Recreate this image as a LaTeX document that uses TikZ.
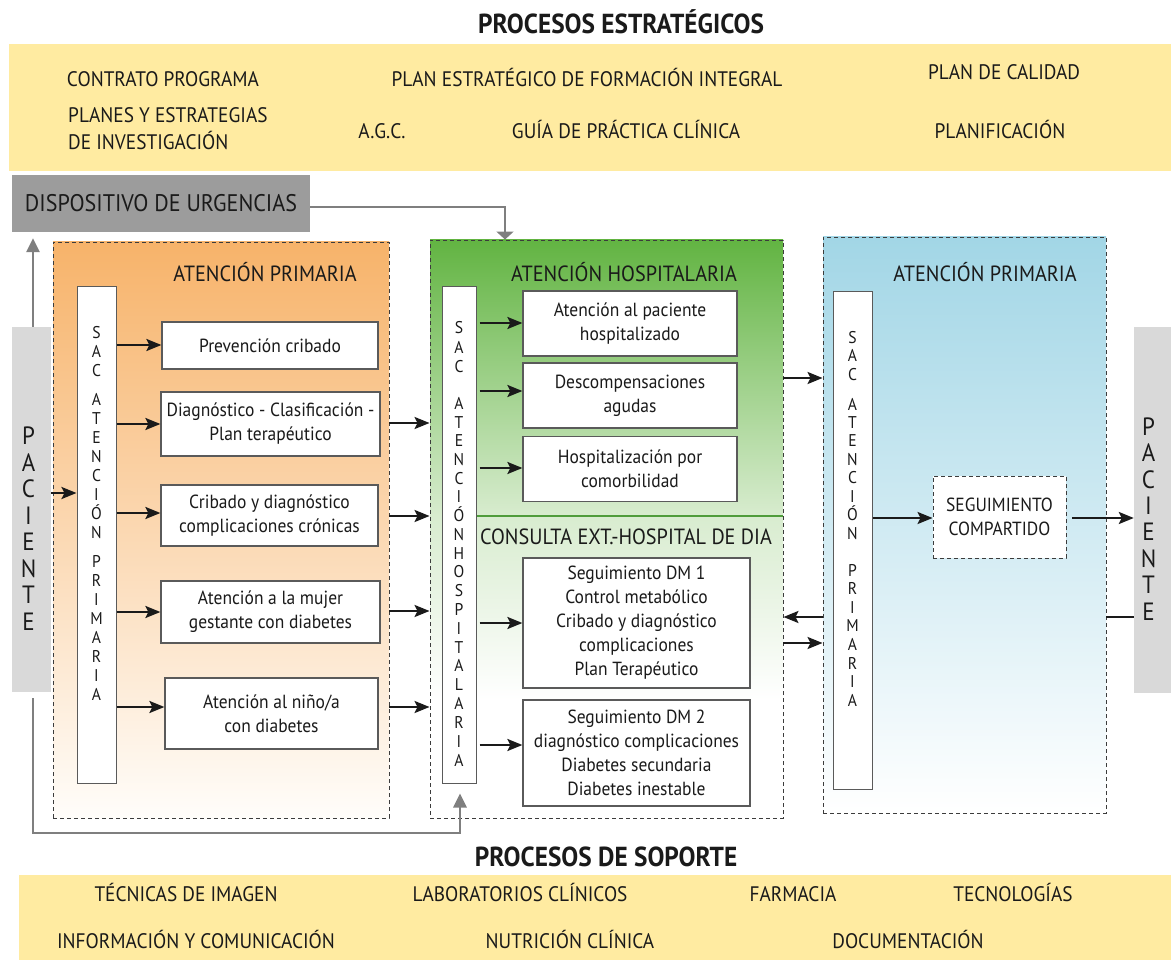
\documentclass[tikz,border=0pt]{standalone}
\usepackage{fontspec}
\setmainfont{PT Sans}[FakeStretch=0.92]
\usetikzlibrary{arrows.meta}
\definecolor{band}{HTML}{FFEBA1}
\definecolor{dispgray}{HTML}{9C9C9C}
\definecolor{pacgray}{HTML}{D9D9D9}
\definecolor{orangetop}{HTML}{F7B36A}
\definecolor{orangebot}{HTML}{FFFDFA}
\definecolor{greentop}{HTML}{62B442}
\definecolor{greenmid}{HTML}{D8ECCF}
\definecolor{greenline}{HTML}{4F9C3B}
\definecolor{bluetop}{HTML}{A2D6E6}
\definecolor{ink}{HTML}{1A1A1A}
\definecolor{conn}{HTML}{7F7F7F}
\definecolor{frame}{HTML}{3C3C3C}
\definecolor{boxline}{HTML}{5A5A5A}
\begin{document}
\begin{tikzpicture}[x=1pt,y=-1pt,
  every node/.style={text=ink},
  bigtitle/.style={font=\fontsize{27.5}{30}\selectfont\bfseries, inner sep=0pt},
  bandtxt/.style={font=\fontsize{21}{27}\selectfont, inner sep=0pt},
  bandline/.style={bandtxt, anchor=base},
  cont/.style={draw=frame, line width=0.9pt, dash pattern=on 4pt off 3pt, inner sep=0pt},
  conttitle/.style={font=\fontsize{22}{26}\selectfont, inner sep=0pt},
  bar/.style={draw=boxline, fill=white, line width=1pt, inner sep=0pt},
  procbox/.style={draw=boxline, fill=white, line width=1.2pt, inner sep=0pt, align=center, font=\fontsize{19}{24}\selectfont},
  vl/.style={font=\fontsize{17}{17}\selectfont, anchor=base, inner sep=0pt},
  pl/.style={font=\fontsize{25}{25}\selectfont, anchor=base, inner sep=0pt},
  arr/.style={draw=ink, line width=2.5pt, -{Stealth[length=15pt,width=12pt,inset=3pt]}},
  garr/.style={draw=conn, line width=2.8pt, -{Triangle[length=14pt,width=13pt]}},
  gdown/.style={draw=conn, line width=2.8pt, -{Triangle[length=8pt,width=17pt]}},
]
\useasboundingbox (0,0) rectangle (1171,960);

% ---------- strategic processes ----------
\node[bigtitle] (tStrat) at (621,22) {PROCESOS ESTRATÉGICOS};
\fill[band] (9,44) rectangle (1171,171);
\node[bandline] (s1) at (163,86.5) {CONTRATO PROGRAMA};
\node[bandline] (s2) at (587,86.5) {PLAN ESTRATÉGICO DE FORMACIÓN INTEGRAL};
\node[bandline] (s3) at (1004,79.5) {PLAN DE CALIDAD};
\node[bandtxt, anchor=west, align=left] (s4) at (68,128.5) {PLANES Y ESTRATEGIAS\\DE INVESTIGACIÓN};
\node[bandline] (s5) at (382,138.5) {A.G.C.};
\node[bandline] (s6) at (626,138.5) {GUÍA DE PRÁCTICA CLÍNICA};
\node[bandline] (s7) at (1000,138.5) {PLANIFICACIÓN};

% ---------- support processes ----------
\node[bigtitle] (tSop) at (606,857) {PROCESOS DE SOPORTE};
\fill[band] (19,875) rectangle (1171,960);
\node[bandline] (p1) at (186,901.5) {TÉCNICAS DE IMAGEN};
\node[bandline] (p2) at (520,901.5) {LABORATORIOS CLÍNICOS};
\node[bandline] (p3) at (793,901.5) {FARMACIA};
\node[bandline] (p4) at (1013,901.5) {TECNOLOGÍAS};
\node[bandline] (p5) at (196,948.5) {INFORMACIÓN Y COMUNICACIÓN};
\node[bandline] (p6) at (570,948.5) {NUTRICIÓN CLÍNICA};
\node[bandline] (p7) at (908,948.5) {DOCUMENTACIÓN};

% ---------- urgencias ----------
\node[fill=dispgray, minimum width=298pt, minimum height=57pt, inner sep=0pt,
      font=\fontsize{24}{28}\selectfont] (disp) at (161,203.5) {DISPOSITIVO DE URGENCIAS};

% ---------- containers ----------
\node[cont, top color=orangetop, bottom color=orangebot, minimum width=336pt, minimum height=576pt] (orange) at (221,530) {};
\shade[top color=greentop, bottom color=greenmid] (430,240) rectangle (783,516);
\shade[top color=greenmid, bottom color=white] (430,516) rectangle (783,700);
\node[cont, minimum width=353pt, minimum height=578pt] (green) at (606.5,529) {};
\node[cont, top color=bluetop, bottom color=white, minimum width=283pt, minimum height=576pt] (blue) at (964.5,525) {};

\node[conttitle] (tOr) at (265,272) {ATENCIÓN PRIMARIA};
\node[conttitle] (tGr) at (624,272) {ATENCIÓN HOSPITALARIA};
\node[conttitle] (tCe) at (626,537) {CONSULTA EXT.-HOSPITAL DE DIA};
\node[conttitle] (tBl) at (985,272) {ATENCIÓN PRIMARIA};

% ---------- patient boxes ----------
\node[fill=pacgray, minimum width=39pt, minimum height=365pt, inner sep=0pt] (pacL) at (31.5,509.5) {};
\node[fill=pacgray, minimum width=37pt, minimum height=366pt, inner sep=0pt] (pacR) at (1152.5,510) {};
\foreach \yy/\ll [count=\i] in {436/P,462.5/A,489/C,515.5/I,542/E,568.5/N,595/T,621.5/E}
  \node[pl] (pacL-\i) at (28.5,\yy+8.5) {\ll};
\foreach \yy/\ll [count=\i] in {426.5/P,453/A,479.5/C,506/I,532/E,558.5/N,585/T,611.5/E}
  \node[pl] (pacR-\i) at (1148.5,\yy+8.5) {\ll};

% ---------- SAC bars ----------
\node[bar, minimum width=39pt, minimum height=496pt] (sacL) at (96.5,535) {};
\node[bar, minimum width=34pt, minimum height=496pt] (sacH) at (459,535) {};
\node[bar, minimum width=39pt, minimum height=497pt] (sacR) at (852.5,540.5) {};
\foreach \yy/\ll [count=\i] in {332/S,351/A,370/C,399/A,418/T,437/E,456/N,475/C,494/I,513/Ó,532/N,561/P,580/R,599/I,618/M,637/A,656/R,675/I,694/A}
  \node[vl] (sacL-\i) at (96.5,\yy+6) {\ll};
\foreach \yy/\ll [count=\i] in {328/S,347/A,366/C,403/A,422/T,440/E,459/N,478/C,496/I,515/Ó,534/N,553/H,571/O,590/S,609/P,628/I,647/T,665/A,684/L,703/A,722/R,741/I,760/A}
  \node[vl] (sacH-\i) at (459,\yy+6) {\ll};
\foreach \yy/\ll [count=\i] in {337/S,356/A,374/C,404/A,422/T,440/E,459/N,477/C,496/I,514/Ó,533/N,570/P,588/R,607/I,625/M,644/A,663/R,681/I,700/A}
  \node[vl] (sacR-\i) at (852.5,\yy+6) {\ll};

% ---------- primary care boxes ----------
\node[procbox, minimum width=216pt, minimum height=47pt] (b1) at (270,345.5) {Prevención cribado};
\node[procbox, minimum width=219pt, minimum height=64pt] (b2) at (270.5,424) {Diagnóstico - Clasificación -\\Plan terapéutico};
\node[procbox, minimum width=217pt, minimum height=61pt] (b3) at (269.5,515.5) {Cribado y diagnóstico\\complicaciones crónicas};
\node[procbox, minimum width=219pt, minimum height=62pt] (b4) at (270.5,612) {Atención a la mujer\\gestante con diabetes};
\node[procbox, minimum width=213pt, minimum height=71pt] (b5) at (271.5,713.5) {Atención al niño/a\\con diabetes};

% ---------- hospital boxes ----------
\node[procbox, minimum width=214pt, minimum height=65pt] (g1) at (630,323.5) {Atención al paciente\\hospitalizado};
\node[procbox, minimum width=214pt, minimum height=65pt] (g2) at (630,395.5) {Descompensaciones\\agudas};
\node[procbox, minimum width=214pt, minimum height=65pt] (g3) at (630,469) {Hospitalización por\\comorbilidad};
\node[procbox, minimum width=227pt, minimum height=130pt] (g4) at (636.5,623) {Seguimiento DM 1\\Control metabólico\\Cribado y diagnóstico\\complicaciones\\Plan Terapéutico};
\node[procbox, minimum width=227pt, minimum height=106pt] (g5) at (636.5,753) {Seguimiento DM 2\\diagnóstico complicaciones\\Diabetes secundaria\\Diabetes inestable};

\draw[greenline, line width=2pt] (sacH.east |- 0,516) -- (green.east |- 0,516);

% ---------- shared follow-up ----------
\node[procbox, dash pattern=on 4pt off 3pt, draw=frame, line width=0.9pt, minimum width=133pt, minimum height=82pt] (seg) at (999.5,517) {SEGUIMIENTO\\COMPARTIDO};

% ---------- black arrows ----------
\draw[arr] (pacL.east |- 0,493) -- (sacL.west |- 0,493);
\foreach \b/\yy in {b1/345, b2/424, b3/513, b4/612, b5/707}
  \draw[arr] (sacL.east |- 0,\yy) -- (\b.west |- 0,\yy);
\foreach \yy in {423, 516, 611, 707}
  \draw[arr] (orange.east |- 0,\yy) -- (green.west |- 0,\yy);
\foreach \b/\yy in {g1/323, g2/391, g3/468, g4/623, g5/745}
  \draw[arr, shorten <=3pt] (sacH.east |- 0,\yy) -- (\b.west |- 0,\yy);
\draw[arr] (green.east |- 0,378) -- (blue.west |- 0,378);
\draw[arr] (blue.west |- 0,617) -- (green.east |- 0,617);
\draw[arr] (green.east |- 0,643) -- (blue.west |- 0,643);
\draw[draw=ink, line width=2.5pt] (pacR.west |- 0,617) -- (blue.east |- 0,617);
\draw[arr] (sacR.east |- 0,518) -- (seg.west |- 0,518);
\draw[arr, shorten <=6pt] (seg.east |- 0,518) -- (pacR.west |- 0,518);

% ---------- grey connectors ----------
\draw[gdown] (disp.east |- 0,207) -| (green.north -| 505,0);
\draw[garr, shorten >=6pt] (pacL.north -| 33,0) -- (disp.south -| 33,0);
\draw[garr, shorten <=6pt, shorten >=10pt] (pacL.south -| 33,0) |- (460,833) -- (sacH.south -| 460,0);
\end{tikzpicture}
\end{document}
